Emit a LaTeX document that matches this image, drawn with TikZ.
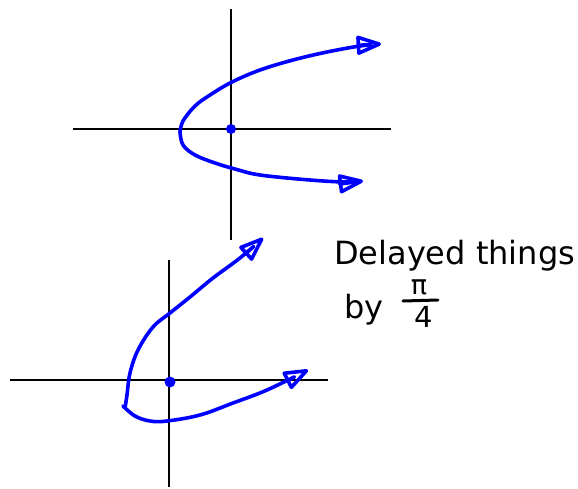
\documentclass[tikz,border=0pt]{standalone}
\usepackage{fontspec}
\setmainfont{DejaVu Sans}
\usetikzlibrary{arrows.meta}
\begin{document}
\begin{tikzpicture}[x=1pt,y=-1pt,
  axis/.style={black,line width=1.3pt},
  curve/.style={blue,line width=3.6pt,line cap=round,line join=round,
    -{Triangle[open,length=28pt,width=20pt,round]}},
  hand/.style={inner sep=0pt,anchor=base west,font=\fontsize{32}{34}\selectfont}]
\useasboundingbox (0,0) rectangle (578,488);
% top axes
\coordinate (tl) at (73,129); \coordinate (tr) at (391,129);
\coordinate (tt) at (231,9); \coordinate (tb) at (231,240);
\draw[axis] (tl) -- (tr);
\draw[axis] (tt) -- (tb);
\node[circle,fill=blue,inner sep=0pt,minimum size=10pt] (o1) at (231,129) {};
% top curve
\draw[curve] plot[smooth,tension=0.6] coordinates {(180,132) (183,121) (195,106) (210,95) (232,82) (260,70) (293,60) (327,52) (360,46) (381,44)};
\draw[curve] plot[smooth,tension=0.6] coordinates {(180,132) (183,145) (195,155) (215,163) (235,169) (260,175) (310,180) (345,182) (363,181)};
% bottom axes
\coordinate (bl) at (10,380); \coordinate (br) at (328,380);
\coordinate (bt) at (169,260); \coordinate (bb) at (169,487);
\draw[axis] (bl) -- (br);
\draw[axis] (bt) -- (bb);
\node[circle,fill=blue,inner sep=0pt,minimum width=8pt,minimum height=11pt] (o2) at (170,382) {};
% bottom curve
\draw[curve] plot[smooth,tension=0.6] coordinates {(125,408) (127,395) (130,373) (138,350) (153,327) (170,313) (190,297) (213,278) (240,258) (263,238)};
\draw[curve] plot[smooth,tension=0.6] coordinates {(123,406) (135,416) (150,421) (167,421) (200,415) (233,403) (267,390) (308,370)};
% text
\node[hand] (t1) at (334,264) {Delayed things};
\node[hand] (t2) at (344,318) {by};
\node[inner sep=0pt,font=\fontsize{27}{29}\selectfont] (pi) at (419,287) {π};
\node[inner sep=0pt,font=\fontsize{29}{31}\selectfont] (four) at (424,317) {4};
\coordinate (fa) at (403,301); \coordinate (fb) at (438,300);
\draw[black,line width=3pt,line cap=round] (fa) -- (fb);
\end{tikzpicture}
\end{document}
